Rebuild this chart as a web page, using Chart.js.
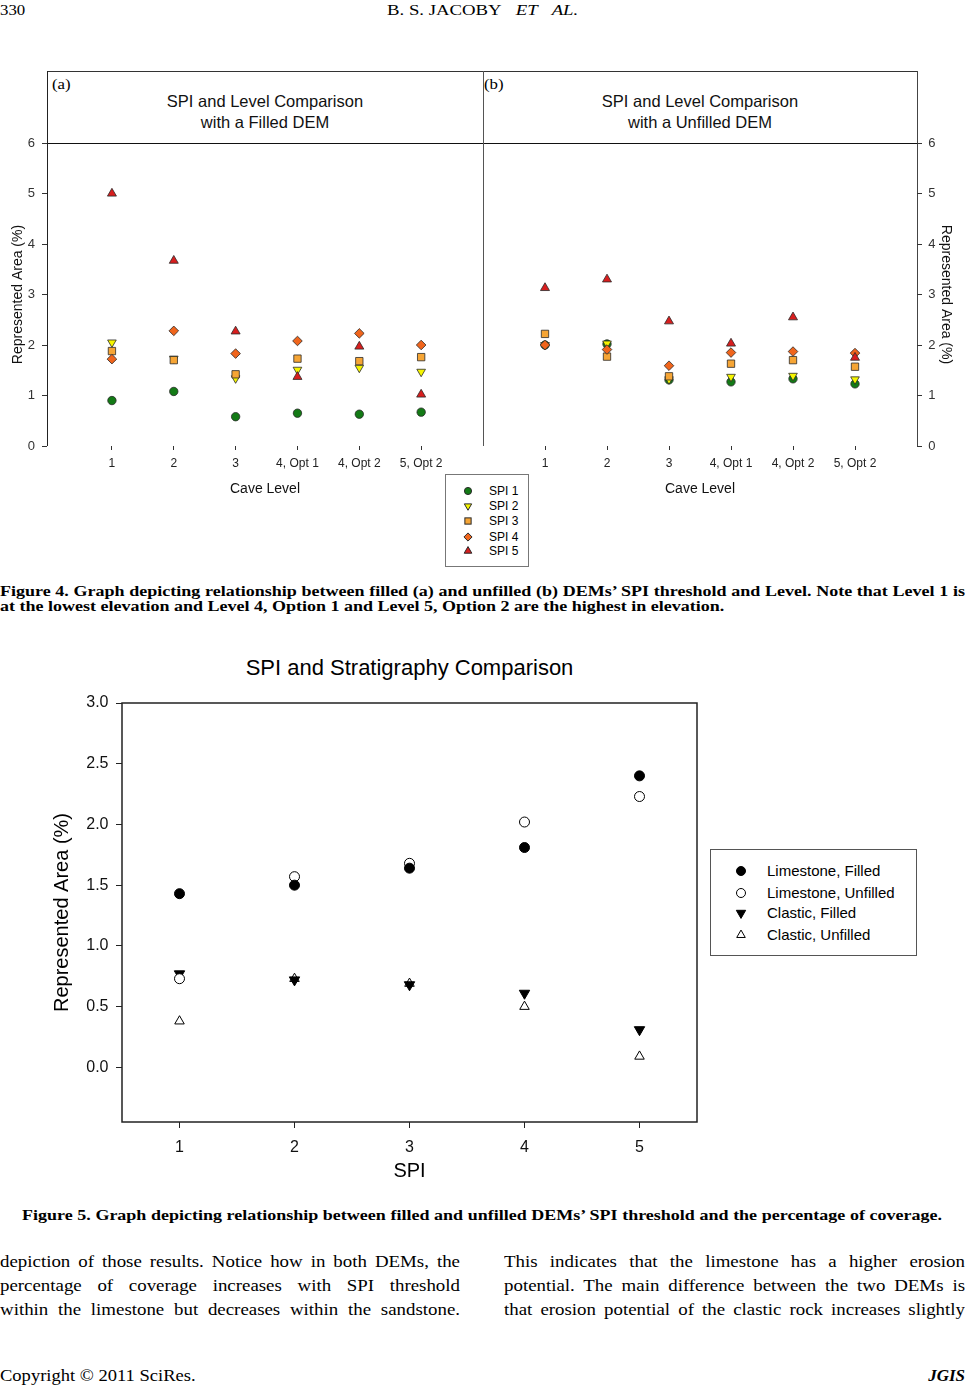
<!DOCTYPE html>
<html>
<head>
<meta charset="utf-8">
<title>SPI and Level / Stratigraphy Comparison</title>
<script src="https://cdn.jsdelivr.net/npm/chart.js@4.4.1/dist/chart.umd.min.js"></script>
<style>
  html, body { margin: 0; padding: 0; background: #fff; }
  #page { position: relative; width: 965px; height: 1386px; overflow: hidden; color: #000;
          font-family: "Liberation Serif", "Times New Roman", serif; }
  .abs { position: absolute; white-space: nowrap; }
  .sans { font-family: "Liberation Sans", Arial, sans-serif; }
  .hline { position: absolute; height: 0; border-top: 1px solid #333; }
  .vline { position: absolute; width: 0; border-left: 1px solid #333; }
  .fit { position: absolute; white-space: normal; text-align: justify; text-align-last: justify; transform-origin: left top; }
  .wide { transform: scaleX(1.2); transform-origin: left top; }
  canvas { position: absolute; }
  .legend { position: absolute; border: 1px solid #777; background: #fff; }
  .legend .row { position: absolute; white-space: nowrap; }
  .legend svg { position: absolute; }
</style>
</head>
<body>
<div id="page">

  <!-- running head -->
  <div class="abs wide" style="left:0; top:0; line-height:21px; font-size:15px; transform:scaleX(1.12);">330</div>
  <div class="abs" style="left:0; width:965px; top:0; line-height:21px; font-size:15px; text-align:center; transform:scaleX(1.25); transform-origin:482px 0;">B. S. JACOBY&nbsp;&nbsp;&nbsp;<i>ET&nbsp;&nbsp;&nbsp;AL.</i></div>

  <!-- figure 4 frame -->
  <div class="hline" style="left:47px; top:71px; width:870px;"></div>
  <div class="hline" style="left:47px; top:143px; width:870px; border-top-color:#111;"></div>
  <div class="vline" style="left:47px; top:71px; height:375px; border-left-color:#222;"></div>
  <div class="vline" style="left:483px; top:71px; height:375px; border-left-color:#555;"></div>
  <div class="vline" style="left:917px; top:71px; height:375px; border-left-color:#444;"></div>

  <div class="abs wide" style="left:52px; top:76px; font-size:14px; line-height:17px;">(a)</div>
  <div class="abs wide" style="left:484px; top:76px; font-size:14px; line-height:17px;">(b)</div>
  <div class="abs sans" style="left:47px; width:436px; top:91px; font-size:16.5px; line-height:21px; text-align:center; color:#111;">SPI and Level Comparison<br>with a Filled DEM</div>
  <div class="abs sans" style="left:483px; width:434px; top:91px; font-size:16.5px; line-height:21px; text-align:center; color:#111;">SPI and Level Comparison<br>with a Unfilled DEM</div>

  <canvas id="levelFilled" width="490" height="380" style="left:0; top:123px; width:490px; height:380px;"></canvas>
  <canvas id="levelUnfilled" width="489" height="380" style="left:476px; top:123px; width:489px; height:380px;"></canvas>

  <div id="spiLegend" class="legend sans" style="left:445px; top:474px; width:82px; height:91px;"></div>

  <div class="fit" data-w="965" data-max="1.2" style="left:0; top:583px; font-size:15px; line-height:17px; font-weight:bold;">Figure 4. Graph depicting relationship between filled (a) and unfilled (b) DEMs’ SPI threshold and Level. Note that Level 1 is</div>
  <div class="abs wide" style="left:0; top:598px; font-size:15px; line-height:17px; font-weight:bold;">at the lowest elevation and Level 4, Option 1 and Level 5, Option 2 are the highest in elevation.</div>

  <!-- figure 5 -->
  <div class="abs sans" style="left:122px; width:575px; top:654px; font-size:22px; line-height:28px; text-align:center;">SPI and Stratigraphy Comparison</div>
  <canvas id="stratChart" width="720" height="512" style="left:0; top:678px; width:720px; height:512px;"></canvas>
  <div id="stratLegend" class="legend sans" style="left:710px; top:849px; width:205px; height:105px; border-color:#555;"></div>

  <div class="fit" data-w="920" data-max="1.2" style="left:22px; top:1206px; font-size:15px; line-height:18px; font-weight:bold;">Figure 5. Graph depicting relationship between filled and unfilled DEMs’ SPI threshold and the percentage of coverage.</div>

  <!-- body text -->
  <div class="fit" data-w="460" data-max="1.18" style="left:0; top:1250px; font-size:16px; line-height:24px;">depiction of those results. Notice how in both DEMs, the</div>
  <div class="fit" data-w="460" data-max="1.18" style="left:0; top:1274px; font-size:16px; line-height:24px;">percentage of coverage increases with SPI threshold</div>
  <div class="fit" data-w="460" data-max="1.18" style="left:0; top:1298px; font-size:16px; line-height:24px;">within the limestone but decreases within the sandstone.</div>
  <div class="fit" data-w="461" data-max="1.18" style="left:504px; top:1250px; font-size:16px; line-height:24px;">This indicates that the limestone has a higher erosion</div>
  <div class="fit" data-w="461" data-max="1.18" style="left:504px; top:1274px; font-size:16px; line-height:24px;">potential. The main difference between the two DEMs is</div>
  <div class="fit" data-w="461" data-max="1.18" style="left:504px; top:1298px; font-size:16px; line-height:24px;">that erosion potential of the clastic rock increases slightly</div>

  <div class="abs" style="left:0; top:1364px; font-size:17px; line-height:24px; transform:scaleX(1.09); transform-origin:left top;">Copyright © 2011 SciRes.</div>
  <div class="abs" style="right:0; top:1364px; font-size:17px; line-height:24px; font-weight:bold; font-style:italic;">JGIS</div>
</div>

<script>
// ---- data: figure 4 ----
const levels = ['1', '2', '3', '4, Opt 1', '4, Opt 2', '5, Opt 2'];
const spiNames = ['SPI 1', 'SPI 2', 'SPI 3', 'SPI 4', 'SPI 5'];
const areaTicks = [0, 1, 2, 3, 4, 5, 6];

// (a) filled DEM
const filledSpi1 = [0.90, 1.08, 0.58, 0.65, 0.63, 0.67];
const filledSpi2 = [2.05, 1.73, 1.34, 1.51, 1.55, 1.47];
const filledSpi3 = [1.88, 1.70, 1.42, 1.73, 1.68, 1.76];
const filledSpi4 = [1.72, 2.28, 1.83, 2.08, 2.23, 2.00];
const filledSpi5 = [5.00, 3.67, 2.27, 1.37, 1.97, 1.02];

// (b) unfilled DEM
const unfilledSpi1 = [2.00, 2.02, 1.31, 1.27, 1.33, 1.23];
const unfilledSpi2 = [2.00, 2.03, 1.32, 1.37, 1.39, 1.32];
const unfilledSpi3 = [2.22, 1.77, 1.38, 1.63, 1.70, 1.57];
const unfilledSpi4 = [2.00, 1.91, 1.59, 1.85, 1.87, 1.84];
const unfilledSpi5 = [3.13, 3.30, 2.47, 2.03, 2.55, 1.75];

// ---- data: figure 5 ----
const spiSteps = [1, 2, 3, 4, 5];
const coverageTicks = [0, 0.5, 1, 1.5, 2, 2.5, 3];
const rockNames = ['Limestone, Filled', 'Limestone, Unfilled', 'Clastic, Filled', 'Clastic, Unfilled'];
const limestoneFilled   = [1.43, 1.50, 1.64, 1.81, 2.40];
const limestoneUnfilled = [0.73, 1.57, 1.68, 2.02, 2.23];
const clasticFilled     = [0.77, 0.72, 0.68, 0.61, 0.31];
const clasticUnfilled   = [0.38, 0.73, 0.69, 0.50, 0.09];

// ---- styles ----
const SANS = "'Liberation Sans', Arial, sans-serif";
const spiColors = ['#137a15', '#f5f500', '#f6a535', '#f0651c', '#d81e1e'];
const spiShapes = ['circle', 'triangle', 'rect', 'rectRot', 'triangle'];
const spiRotation = [0, 180, 0, 0, 0];
const spiRadius = [4.2, 5, 5.2, 4.8, 5.2];

const rockFill = ['#000', '#fff', '#000', '#fff'];
const rockShapes = ['circle', 'circle', 'triangle', 'triangle'];
const rockRotation = [0, 0, 180, 0];
const rockRadius = [5, 5, 6, 5.5];

function levelChart(canvasId, series, side, xMin) {
  const left = side === 'left';
  return new Chart(document.getElementById(canvasId), {
    type: 'scatter',
    data: {
      datasets: series.map(function(vals, i) {
        return {
          label: spiNames[i],
          data: vals.map(function(v, k) { return {x: k, y: v}; }),
          pointStyle: spiShapes[i],
          rotation: spiRotation[i],
          pointRadius: spiRadius[i],
          backgroundColor: spiColors[i],
          borderColor: '#2a2a2a',
          borderWidth: 0.8,
          order: series.length - i
        };
      })
    },
    options: {
      responsive: false,
      animation: false,
      // top padding is larger than the y tick overhang so the plot top stays fixed
      layout: {padding: left ? {top: 20, right: 7, left: 0, bottom: 0} : {top: 20, right: 0, left: 7, bottom: 0}},
      plugins: {legend: {display: false}, tooltip: {enabled: false}},
      scales: {
        x: {
          type: 'linear', min: xMin, max: 6,
          afterBuildTicks: function(s) { s.ticks = levels.map(function(_, k) { return {value: k}; }); },
          afterFit: function(s) { s.height = 57; },
          border: {display: false},
          grid: {drawOnChartArea: false, drawTicks: true, tickLength: 4, tickColor: '#333'},
          ticks: {autoSkip: false, maxRotation: 0, padding: 6, color: '#222',
                  font: {family: SANS, size: 12}, callback: function(v) { return levels[v]; }},
          title: {display: true, text: 'Cave Level', color: '#111',
                  font: {family: SANS, size: 14}, padding: {top: 0, bottom: 5.6}}
        },
        y: {
          position: side, min: 0, max: 6,
          afterBuildTicks: function(s) { s.ticks = areaTicks.map(function(v) { return {value: v}; }); },
          afterFit: function(s) { s.width = left ? 47 : 48; },
          border: {display: false},
          grid: {drawOnChartArea: false, drawTicks: true, tickLength: 5, tickColor: '#333'},
          ticks: {padding: left ? 7 : 6.3, color: '#333', font: {family: SANS, size: 13}},
          title: {display: true, text: 'Represented Area (%)', color: '#111',
                  font: {family: SANS, size: 14}, padding: {top: left ? 9.9 : 10.8, bottom: 0}}
        }
      }
    }
  });
}

levelChart('levelFilled', [filledSpi1, filledSpi2, filledSpi3, filledSpi4, filledSpi5], 'left', -1.05);
levelChart('levelUnfilled', [unfilledSpi1, unfilledSpi2, unfilledSpi3, unfilledSpi4, unfilledSpi5], 'right', -1.0);

// box round the plot area of figure 5
const frameBox = {
  id: 'frameBox',
  beforeDatasetsDraw: function(chart) {
    const a = chart.chartArea, ctx = chart.ctx;
    ctx.save();
    ctx.strokeStyle = '#222';
    ctx.lineWidth = 1.5;
    ctx.strokeRect(a.left, a.top, a.right - a.left, a.bottom - a.top);
    ctx.restore();
  }
};

const rockSeries = [limestoneFilled, limestoneUnfilled, clasticFilled, clasticUnfilled];
new Chart(document.getElementById('stratChart'), {
  type: 'scatter',
  data: {
    datasets: rockSeries.map(function(vals, i) {
      return {
        label: rockNames[i],
        data: vals.map(function(v, k) { return {x: spiSteps[k], y: v}; }),
        pointStyle: rockShapes[i],
        rotation: rockRotation[i],
        pointRadius: rockRadius[i],
        backgroundColor: rockFill[i],
        borderColor: '#000',
        borderWidth: 1
      };
    })
  },
  options: {
    responsive: false,
    animation: false,
    layout: {padding: {top: 25, right: 23, left: 0, bottom: 0}},
    plugins: {legend: {display: false}, tooltip: {enabled: false}},
    scales: {
      x: {
        type: 'linear', min: 0.5, max: 5.5,
        afterBuildTicks: function(s) { s.ticks = spiSteps.map(function(v) { return {value: v}; }); },
        afterFit: function(s) { s.height = 68; },
        border: {display: false},
        grid: {drawOnChartArea: false, drawTicks: true, tickLength: 6, tickColor: '#222'},
        ticks: {padding: 9.5, color: '#111', font: {family: SANS, size: 16}},
        title: {display: true, text: 'SPI', color: '#000', font: {family: SANS, size: 20}, padding: {top: 0, bottom: 6.3}}
      },
      y: {
        min: -0.45, max: 3,
        afterBuildTicks: function(s) { s.ticks = coverageTicks.map(function(v) { return {value: v}; }); },
        afterFit: function(s) { s.width = 122; },
        border: {display: false},
        grid: {drawOnChartArea: false, drawTicks: true, tickLength: 6, tickColor: '#222'},
        ticks: {padding: 7.5, color: '#111', font: {family: SANS, size: 16},
                callback: function(v) { return v.toFixed(1); }},
        title: {display: true, text: 'Represented Area (%)', color: '#000',
                font: {family: SANS, size: 20}, padding: {top: 50, bottom: 0}}
      }
    }
  },
  plugins: [frameBox]
});

// ---- HTML legends with svg markers ----
function markerSvg(shape, rotation, r, fill, stroke) {
  const c = 8;
  let body;
  if (shape === 'circle') {
    body = '<circle cx="' + c + '" cy="' + c + '" r="' + r + '"/>';
  } else if (shape === 'rect') {
    const h = r * Math.SQRT1_2;
    body = '<rect x="' + (c - h) + '" y="' + (c - h) + '" width="' + 2 * h + '" height="' + 2 * h + '"/>';
  } else if (shape === 'rectRot') {
    body = '<polygon points="' + c + ',' + (c - r) + ' ' + (c + r) + ',' + c + ' ' + c + ',' + (c + r) + ' ' + (c - r) + ',' + c + '"/>';
  } else {
    const dx = r * 0.866, dy = r / 2, s = rotation === 180 ? -1 : 1;
    body = '<polygon points="' + c + ',' + (c - s * r) + ' ' + (c + dx) + ',' + (c + s * dy) + ' ' + (c - dx) + ',' + (c + s * dy) + '"/>';
  }
  return '<svg width="16" height="16" viewBox="0 0 16 16"><g fill="' + fill + '" stroke="' + stroke + '" stroke-width="1">' + body + '</g></svg>';
}

function buildLegend(id, names, rowTops, markerX, textX, fontSize, marker) {
  const box = document.getElementById(id);
  names.forEach(function(name, i) {
    const row = document.createElement('div');
    row.className = 'row';
    row.style.top = rowTops[i] + 'px';
    row.style.left = '0px';
    row.innerHTML = marker(i).replace('<svg ', '<svg style="left:' + (markerX - 8) + 'px; top:' + (-8) + 'px;" ') +
      '<span style="position:absolute; left:' + textX + 'px; top:' + (-fontSize * 0.6) + 'px; font-size:' + fontSize + 'px; line-height:' + (fontSize * 1.2) + 'px;">' + name + '</span>';
    box.appendChild(row);
  });
}

buildLegend('spiLegend', spiNames, [16, 31, 46, 62, 76], 22, 43, 12, function(i) {
  return markerSvg(spiShapes[i], spiRotation[i], spiRadius[i] * 0.85, spiColors[i], '#2a2a2a');
});
buildLegend('stratLegend', rockNames, [21, 43, 63, 85], 30, 56, 15, function(i) {
  return markerSvg(rockShapes[i], rockRotation[i], rockRadius[i] * 0.9, rockFill[i], '#000');
});

// ---- stretch the scanned-looking text lines to their measured widths ----
document.querySelectorAll('.fit').forEach(function(el) {
  const target = parseFloat(el.dataset.w);
  const maxScale = parseFloat(el.dataset.max);
  const probe = document.createElement('span');
  probe.style.whiteSpace = 'nowrap';
  probe.innerHTML = el.innerHTML;
  el.innerHTML = '';
  el.appendChild(probe);
  const natural = probe.getBoundingClientRect().width;
  el.innerHTML = probe.innerHTML;
  const s = Math.min(maxScale, target / (natural + 2));
  el.style.width = (target / s) + 'px';
  el.style.transform = 'scaleX(' + s + ')';
});
</script>
</body>
</html>
